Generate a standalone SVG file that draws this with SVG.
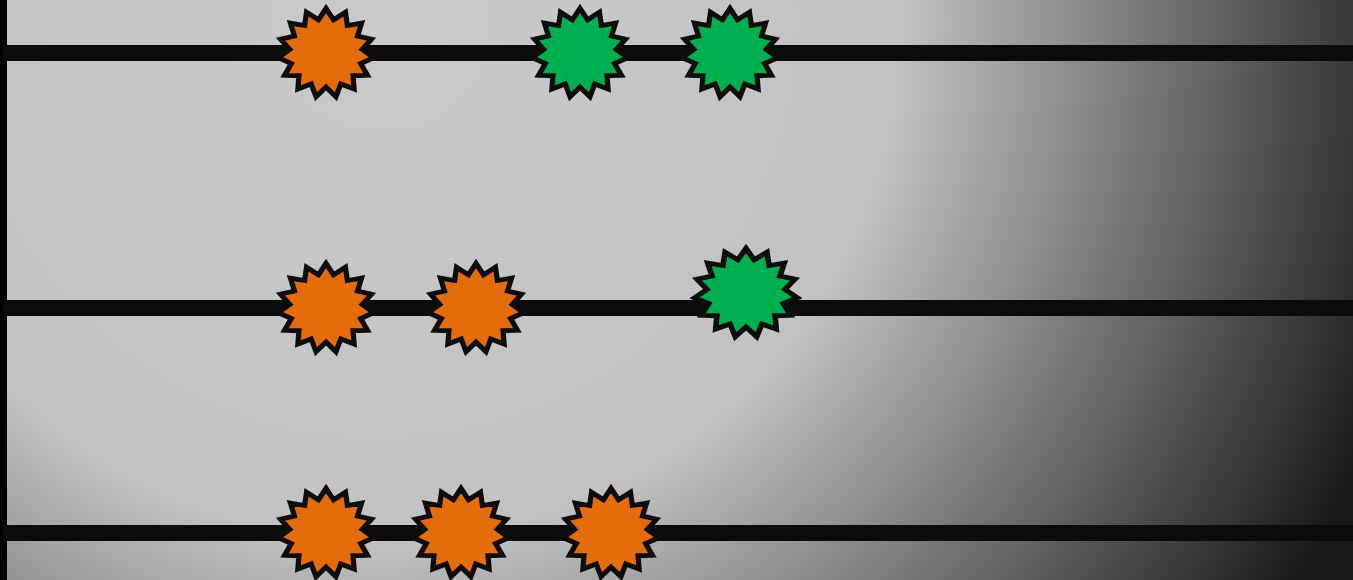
<svg xmlns="http://www.w3.org/2000/svg" width="1353" height="580" viewBox="0 0 1353 580">
  <defs>
    <radialGradient id="bg" gradientUnits="userSpaceOnUse" cx="380" cy="20" r="1080">
      <stop offset="0" stop-color="#cacaca"/>
      <stop offset="0.48" stop-color="#c2c2c2"/>
      <stop offset="1" stop-color="#181818"/>
    </radialGradient>
    <polygon id="star" points="0,-46 7.28,-34.23 18.71,-42.02 20.57,-28.32 34.18,-30.78 30.31,-17.5 43.75,-14.21 34.81,-3.66 45.75,4.81 33.29,10.82 39.84,23 26.01,23.42 27.04,37.21 14.24,31.97 9.56,45 0,35 -9.56,45 -14.24,31.97 -27.04,37.21 -26.01,23.42 -39.84,23 -33.29,10.82 -45.75,4.81 -34.81,-3.66 -43.75,-14.21 -30.31,-17.5 -34.18,-30.78 -20.57,-28.32 -18.71,-42.02 -7.28,-34.23"/>
  </defs>
  <style>
    .line { stroke: #0b0b0b; stroke-width: 16; fill: none; }
    .orange { fill: #e46c0a; stroke: #0d0d0d; stroke-width: 5; stroke-linejoin: miter; }
    .green { fill: #00b050; stroke: #0d0d0d; stroke-width: 5; stroke-linejoin: miter; }
  </style>
  <rect x="0" y="0" width="1353" height="580" fill="url(#bg)"/>
  <rect x="0" y="0" width="7" height="580" fill="#000"/>
  <g id="connectors">
    <line class="line" x1="3" y1="53" x2="1353" y2="53"/>
    <line class="line" x1="3" y1="308" x2="1353" y2="308"/>
    <line class="line" x1="3" y1="533" x2="1353" y2="533"/>
  </g>
  <g id="star-top-1"><use href="#star" class="orange" transform="translate(326,53) scale(1.04,0.97)"/></g>
  <g id="star-top-2"><use href="#star" class="green" transform="translate(580,53) scale(1.04,0.97)"/></g>
  <g id="star-top-3"><use href="#star" class="green" transform="translate(730,53) scale(1.04,0.97)"/></g>
  <g id="star-mid-1"><use href="#star" class="orange" transform="translate(326,308) scale(1.04,0.97)"/></g>
  <g id="star-mid-2"><use href="#star" class="orange" transform="translate(476,308) scale(1.04,0.97)"/></g>
  <g id="star-mid-3"><use href="#star" class="green" transform="translate(746,293) scale(1.12,0.97)"/></g>
  <g id="star-bot-1"><use href="#star" class="orange" transform="translate(326,533) scale(1.04,0.97)"/></g>
  <g id="star-bot-2"><use href="#star" class="orange" transform="translate(461,533) scale(1.04,0.97)"/></g>
  <g id="star-bot-3"><use href="#star" class="orange" transform="translate(611,533) scale(1.04,0.97)"/></g>
</svg>
